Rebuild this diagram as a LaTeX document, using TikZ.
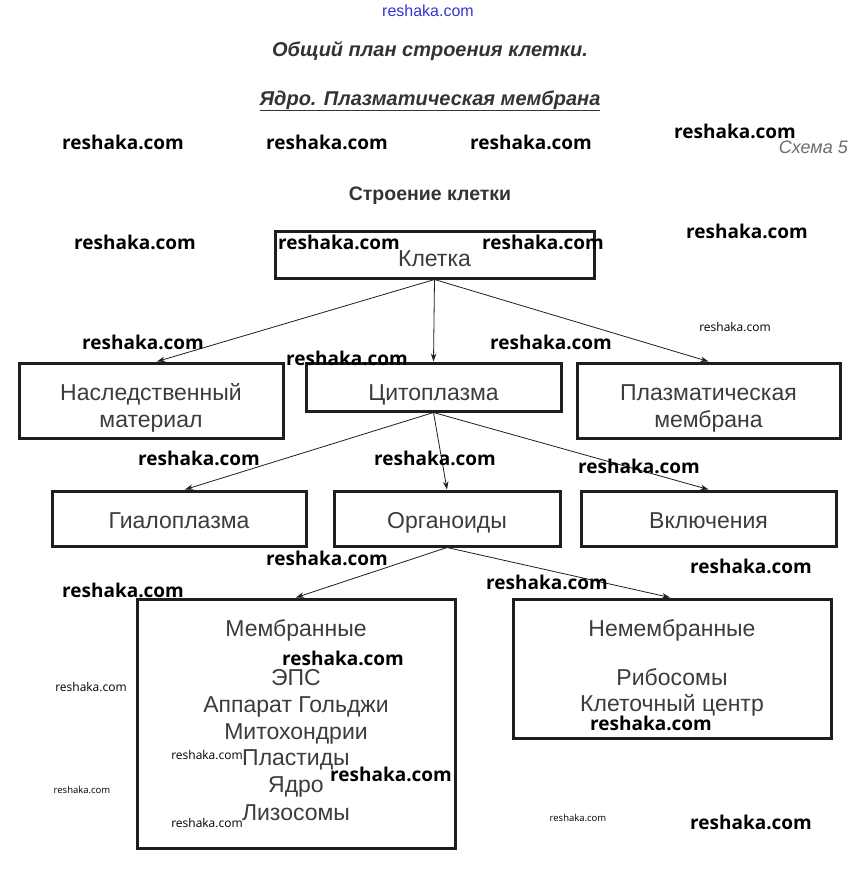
\documentclass[tikz,border=0pt]{standalone}
\usepackage{fontspec}
\setmainfont{Liberation Sans}
\newfontfamily\wmfont{Open Sans}
\usetikzlibrary{arrows.meta}
\definecolor{boxtext}{HTML}{3C3C3C}
\definecolor{linec}{HTML}{1E1E1E}
\definecolor{titlec}{HTML}{333333}
\definecolor{wmblue}{HTML}{3535D5}
\tikzset{
  box/.style={draw=linec, line width=3pt, inner sep=0pt},
  btxt/.style={anchor=base, inner sep=0pt, text=boxtext, font=\fontsize{23}{27}\selectfont},
  conn/.style={draw=linec, line width=0.8pt, -{Stealth[length=8pt,width=5.5pt]}},
  wm/.style={inner sep=0pt, text=black, font=\wmfont\bfseries\fontsize{19}{19}\selectfont},
  wms/.style={inner sep=0pt, text=black, font=\wmfont\fontsize{12}{12}\selectfont},
  wmxs/.style={inner sep=0pt, text=black, font=\wmfont\fontsize{9.5}{9.5}\selectfont},
}
\begin{document}
\begin{tikzpicture}[x=1pt,y=-1pt]
\useasboundingbox[fill=white] (0,0) rectangle (853,870);

% titles
\node[inner sep=0pt, text=wmblue, font=\fontsize{16}{16}\selectfont] (top) at (428,11) {reshaka.com};
\node[anchor=base, inner sep=0pt, text=titlec, font=\bfseries\itshape\fontsize{20}{20}\selectfont] (t1) at (430,56) {Общий план строения клетки.};
\node[anchor=base, inner sep=0pt, text=titlec, font=\bfseries\itshape\fontsize{20}{20}\selectfont] (t2) at (430,105) {\underline{Ядро. Плазматическая мембрана}};
\node[anchor=base east, inner sep=0pt, text=gray!85!black, font=\itshape\fontsize{18}{18}\selectfont] (sch) at (848,153) {Схема 5};
\node[anchor=base, inner sep=0pt, text=titlec, font=\bfseries\fontsize{19.5}{19.5}\selectfont] (st) at (430,200) {Строение клетки};

% boxes
\node[box, minimum width=319pt, minimum height=47pt] (kl) at (434.5,254.5) {};
\node[box, minimum width=264pt, minimum height=75pt] (nm) at (151,400.5) {};
\node[box, minimum width=255pt, minimum height=48pt] (cy) at (433.5,387) {};
\node[box, minimum width=263pt, minimum height=75pt] (pm) at (708.5,400.5) {};
\node[box, minimum width=254pt, minimum height=55pt] (gi) at (179,518.5) {};
\node[box, minimum width=226pt, minimum height=55pt] (or) at (447,518.5) {};
\node[box, minimum width=255pt, minimum height=55pt] (vk) at (708.5,518.5) {};
\node[box, minimum width=318pt, minimum height=249pt] (mb) at (296,723.5) {};
\node[box, minimum width=318pt, minimum height=139pt] (nb) at (672,668.5) {};

% box texts
\node[btxt] (klt) at (434.5,266) {Клетка};
\node[btxt] (nmt1) at (151,400) {Наследственный};
\node[btxt] (nmt2) at (151,427) {материал};
\node[btxt] (cyt) at (433.5,400) {Цитоплазма};
\node[btxt] (pmt1) at (708.5,400) {Плазматическая};
\node[btxt] (pmt2) at (708.5,427) {мембрана};
\node[btxt] (git) at (179,528) {Гиалоплазма};
\node[btxt] (ort) at (447,528) {Органоиды};
\node[btxt] (vkt) at (708.5,528) {Включения};
\node[btxt] (mb0) at (296,636) {Мембранные};
\node[btxt] (mb1) at (296,685) {ЭПС};
\node[btxt] (mb2) at (296,712) {Аппарат Гольджи};
\node[btxt] (mb3) at (296,739) {Митохондрии};
\node[btxt] (mb4) at (296,765) {Пластиды};
\node[btxt] (mb5) at (296,792) {Ядро};
\node[btxt] (mb6) at (296,820) {Лизосомы};
\node[btxt] (nb0) at (672,636) {Немембранные};
\node[btxt] (nb1) at (672,685) {Рибосомы};
\node[btxt] (nb2) at (672,711) {Клеточный центр};

% connectors
\draw[conn] (kl.south) -- ([xshift=6pt]nm.north);
\draw[conn] (kl.south) -- (cy.north);
\draw[conn] (kl.south) -- (pm.north);
\draw[conn] (cy.south) -- ([xshift=6pt]gi.north);
\draw[conn] (cy.south) -- (or.north);
\draw[conn] (cy.south) -- (vk.north);
\draw[conn] (or.south) -- (mb.north);
\draw[conn] (or.south) -- ([xshift=-2pt]nb.north);

% watermarks
\node[wm] (w1) at (123,142) {reshaka.com};
\node[wm] (w2) at (327,142) {reshaka.com};
\node[wm] (w3) at (531,142) {reshaka.com};
\node[wm] (w4) at (735,131) {reshaka.com};
\node[wm] (w5) at (135,242) {reshaka.com};
\node[wm] (w6) at (339,242) {reshaka.com};
\node[wm] (w7) at (543,242) {reshaka.com};
\node[wm] (w8) at (747,231) {reshaka.com};
\node[wm] (w9) at (143,342) {reshaka.com};
\node[wm] (w10) at (347,358) {reshaka.com};
\node[wm] (w11) at (551,342) {reshaka.com};
\node[wms] (w12) at (735,327) {reshaka.com};
\node[wm] (w13) at (199,458) {reshaka.com};
\node[wm] (w14) at (435,458) {reshaka.com};
\node[wm] (w15) at (639,466) {reshaka.com};
\node[wm] (w16) at (327,558) {reshaka.com};
\node[wm] (w17) at (123,590) {reshaka.com};
\node[wm] (w18) at (547,582) {reshaka.com};
\node[wm] (w19) at (751,566) {reshaka.com};
\node[wm] (w20) at (343,658) {reshaka.com};
\node[wms] (w21) at (91,687) {reshaka.com};
\node[wm] (w22) at (651,723) {reshaka.com};
\node[wms] (w23) at (207,755) {reshaka.com};
\node[wm] (w24) at (391,774) {reshaka.com};
\node[wmxs] (w25) at (82,790) {reshaka.com};
\node[wms] (w26) at (207,823) {reshaka.com};
\node[wmxs] (w27) at (578,818) {reshaka.com};
\node[wm] (w28) at (751,822) {reshaka.com};
\end{tikzpicture}
\end{document}
